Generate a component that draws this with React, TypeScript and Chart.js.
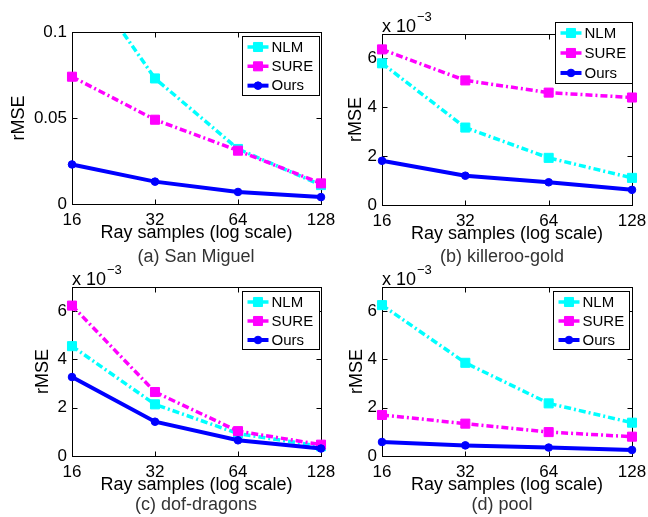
import React, { useEffect, useRef } from 'react';
import { Chart, registerables } from 'chart.js';

Chart.register(...registerables);
Chart.defaults.font.family = '"Liberation Sans", Arial, Helvetica, sans-serif';
Chart.defaults.color = '#000';

// ---------- data ----------
const samples = [16, 32, 64, 128];
const seriesNames = ['NLM', 'SURE', 'Ours'];

// (a) San Miguel (absolute rMSE)
const aNLM = [0.142, 0.073, 0.032, 0.011];
const aSURE = [0.074, 0.049, 0.031, 0.012];
const aOurs = [0.023, 0.013, 0.007, 0.004];
// (b) killeroo-gold (x 10^-3)
const bNLM = [5.8, 3.17, 1.93, 1.11];
const bSURE = [6.37, 5.1, 4.6, 4.4];
const bOurs = [1.81, 1.2, 0.93, 0.62];
// (c) dof-dragons (x 10^-3)
const cNLM = [4.55, 2.14, 0.93, 0.4];
const cSURE = [6.23, 2.65, 1.03, 0.47];
const cOurs = [3.27, 1.42, 0.65, 0.31];
// (d) pool (x 10^-3)
const dNLM = [6.25, 3.86, 2.18, 1.38];
const dSURE = [1.7, 1.34, 0.99, 0.8];
const dOurs = [0.58, 0.44, 0.35, 0.25];

const aYTicks = [0, 0.05, 0.1];
const aYTickLabels = ['0', '0.05', '0.1'];
const milliYTicks = [0, 2, 4, 6];
const milliYTickLabels = ['0', '2', '4', '6'];

const captions = ['(a) San Miguel', '(b) killeroo-gold', '(c) dof-dragons', '(d) pool'];
const xTitle = 'Ray samples (log scale)';
const yTitle = 'rMSE';
const exponentBase = 'x 10';
const exponentPower = '\u22123';

// ---------- layout / style ----------
const COLORS = ['#00FFFF', '#FF00FF', '#0000FF'];
const DASHES = [[7, 3, 2, 3], [7, 3, 2, 3], []];
const WIDTHS = [3.5, 3.5, 4];
const STYLES = ['rect', 'rect', 'circle'];
const RADII = [6.4, 6.4, 3.8];
const FONT = '"Liberation Sans", Arial, Helvetica, sans-serif';

type PanelCfg = {
  caption: string;
  series: number[][];
  yMax: number;
  yTicks: number[];
  yLabels: string[];
  exponent: boolean;
  canvas: { x: number; y: number; w: number; h: number };
  plot: { l: number; t: number; r: number; b: number };
  yTitleX: number;
  capX: number;
  capY: number;
  legend: { rightInset: number; topOffset: number; w: number; h: number };
};

const panels: PanelCfg[] = [
  {
    caption: captions[0], series: [aNLM, aSURE, aOurs], yMax: 0.1, yTicks: aYTicks, yLabels: aYTickLabels, exponent: false,
    canvas: { x: 0, y: 0, w: 345, h: 272 }, plot: { l: 72, t: 32, r: 321, b: 204 },
    yTitleX: 19, capX: 196, capY: 257, legend: { rightInset: 2, topOffset: 4, w: 77, h: 59 },
  },
  {
    caption: captions[1], series: [bNLM, bSURE, bOurs], yMax: 7, yTicks: milliYTicks, yLabels: milliYTickLabels, exponent: true,
    canvas: { x: 315, y: 0, w: 333, h: 272 }, plot: { l: 382, t: 34, r: 632, b: 205 },
    yTitleX: 356, capX: 502, capY: 257, legend: { rightInset: 0, topOffset: -12, w: 77, h: 61 },
  },
  {
    caption: captions[2], series: [cNLM, cSURE, cOurs], yMax: 7, yTicks: milliYTicks, yLabels: milliYTickLabels, exponent: true,
    canvas: { x: 0, y: 245, w: 345, h: 272 }, plot: { l: 72, t: 287, r: 321, b: 456 },
    yTitleX: 43, capX: 196, capY: 505, legend: { rightInset: 2, topOffset: 4, w: 77, h: 58 },
  },
  {
    caption: captions[3], series: [dNLM, dSURE, dOurs], yMax: 7, yTicks: milliYTicks, yLabels: milliYTickLabels, exponent: true,
    canvas: { x: 315, y: 245, w: 333, h: 272 }, plot: { l: 382, t: 287, r: 632, b: 456 },
    yTitleX: 357, capX: 502, capY: 505, legend: { rightInset: 3, topOffset: 4, w: 76, h: 58 },
  },
];

function drawMarker(ctx: CanvasRenderingContext2D, style: string, x: number, y: number, r: number, color: string) {
  ctx.save();
  ctx.setLineDash([]);
  ctx.fillStyle = color;
  ctx.strokeStyle = color;
  ctx.lineWidth = 1;
  ctx.beginPath();
  if (style === 'rect') {
    const s = Math.SQRT1_2 * r;
    ctx.rect(x - s, y - s, 2 * s, 2 * s);
  } else {
    ctx.arc(x, y, r, 0, Math.PI * 2);
  }
  ctx.fill();
  ctx.stroke();
  ctx.restore();
}

function Panel({ cfg }: { cfg: PanelCfg }) {
  const ref = useRef<HTMLCanvasElement>(null);
  useEffect(() => {
    const c = cfg.canvas;
    const p = cfg.plot;
    const t = p.t - c.y;
    const r = p.r - c.x;
    const b = p.b - c.y;
    const l = p.l - c.x;
    const xTitleCY = p.b + 29 - c.y;
    const yTitleCX = cfg.yTitleX - c.x;

    const decor = {
      id: 'decor',
      beforeDatasetsDraw(chart: any) {
        const { ctx, chartArea } = chart;
        const L = Math.round(chartArea.left) + 0.5;
        const T = Math.round(chartArea.top) + 0.5;
        const R = Math.round(chartArea.right) + 0.5;
        const B = Math.round(chartArea.bottom) + 0.5;
        ctx.save();
        ctx.strokeStyle = '#000';
        ctx.lineWidth = 1;
        ctx.strokeRect(L, T, R - L, B - T);
        const ys = chart.scales.y;
        const xs = chart.scales.x;
        ctx.beginPath();
        ys.ticks.forEach((tk: any) => {
          const py = Math.round(ys.getPixelForValue(tk.value)) + 0.5;
          ctx.moveTo(L, py); ctx.lineTo(L + 5, py);
          ctx.moveTo(R, py); ctx.lineTo(R - 5, py);
        });
        xs.ticks.forEach((tk: any) => {
          const px = Math.round(xs.getPixelForValue(tk.value)) + 0.5;
          ctx.moveTo(px, B); ctx.lineTo(px, B - 5);
          ctx.moveTo(px, T); ctx.lineTo(px, T + 5);
        });
        ctx.stroke();
        ctx.restore();
      },
      afterDraw(chart: any) {
        const { ctx, chartArea } = chart;
        ctx.save();
        // legend box
        const lg = cfg.legend;
        const bx = Math.round(chartArea.right - lg.rightInset - lg.w) + 0.5;
        const by = Math.round(chartArea.top + lg.topOffset) + 0.5;
        ctx.fillStyle = '#fff';
        ctx.fillRect(bx, by, lg.w, lg.h);
        ctx.strokeStyle = '#000';
        ctx.lineWidth = 1;
        ctx.strokeRect(bx, by, lg.w, lg.h);
        chart.data.datasets.forEach((ds: any, i: number) => {
          const yy = by + 10.5 + i * 19 * (lg.h / 58);
          ctx.save();
          ctx.strokeStyle = ds.borderColor;
          ctx.lineWidth = ds.borderWidth;
          ctx.setLineDash(ds.borderDash || []);
          ctx.beginPath();
          ctx.moveTo(bx + 5, yy);
          ctx.lineTo(bx + 26, yy);
          ctx.stroke();
          ctx.restore();
          drawMarker(ctx, ds.pointStyle, bx + 15.5, yy, ds.pointRadius, ds.borderColor);
          ctx.fillStyle = '#000';
          ctx.font = '15px ' + FONT;
          ctx.textAlign = 'left';
          ctx.textBaseline = 'middle';
          ctx.fillText(ds.label, bx + 29, yy + 0.5);
        });
        // exponent label
        if (cfg.exponent) {
          ctx.fillStyle = '#000';
          ctx.textAlign = 'left';
          ctx.textBaseline = 'alphabetic';
          ctx.font = '18px ' + FONT;
          ctx.fillText(exponentBase, chartArea.left, chartArea.top - 2.5);
          const w = ctx.measureText(exponentBase).width;
          ctx.font = '13px ' + FONT;
          ctx.fillText(exponentPower, chartArea.left + w + 1, chartArea.top - 13);
        }
        // caption
        ctx.fillStyle = '#333';
        ctx.font = '18px ' + FONT;
        ctx.textAlign = 'center';
        ctx.textBaseline = 'middle';
        ctx.fillText(cfg.caption, cfg.capX - c.x, cfg.capY - c.y);
        ctx.restore();
      },
    };

    const datasets = seriesNames.map((name, i) => ({
      label: name,
      data: samples.map((x, k) => ({ x, y: cfg.series[i][k] })),
      borderColor: COLORS[i],
      backgroundColor: COLORS[i],
      borderWidth: WIDTHS[i],
      borderDash: DASHES[i],
      pointStyle: STYLES[i],
      pointRadius: RADII[i],
      pointBorderWidth: 1,
      pointBorderColor: COLORS[i],
      pointBackgroundColor: COLORS[i],
      tension: 0,
      fill: false,
      order: 3 - i,
      clip: { left: 12, right: 12, top: 0, bottom: 12 },
    }));

    const chart = new Chart(ref.current as HTMLCanvasElement, {
      type: 'line',
      data: { datasets } as any,
      options: {
        animation: false,
        responsive: false,
        devicePixelRatio: 1,
        events: [],
        layout: { padding: { left: 0, top: t, right: c.w - r, bottom: 0 } },
        plugins: { legend: { display: false }, tooltip: { enabled: false }, title: { display: false } },
        scales: {
          x: {
            type: 'logarithmic',
            min: 16,
            max: 128,
            position: 'bottom',
            grid: { display: false, drawTicks: false },
            border: { display: false },
            ticks: {
              autoSkip: false,
              maxRotation: 0,
              minRotation: 0,
              padding: 6,
              font: { size: 17 },
              color: '#000',
              callback: (v: any) => String(v),
            },
            afterBuildTicks: (s: any) => { s.ticks = samples.map((v) => ({ value: v })); },
            afterFit: (s: any) => { s.height = c.h - b; s.paddingLeft = 0; s.paddingRight = 0; },
            title: {
              display: true,
              text: xTitle,
              font: { size: 18 },
              color: '#000',
              padding: { top: 0, bottom: c.h - xTitleCY - 10.8 },
            },
          },
          y: {
            type: 'linear',
            min: 0,
            max: cfg.yMax,
            position: 'left',
            grid: { display: false, drawTicks: false },
            border: { display: false },
            ticks: {
              autoSkip: false,
              padding: 5,
              font: { size: 17 },
              color: '#000',
              callback: (v: any) => cfg.yLabels[cfg.yTicks.indexOf(v)] ?? '',
            },
            afterBuildTicks: (s: any) => { s.ticks = cfg.yTicks.map((v) => ({ value: v })); },
            afterFit: (s: any) => { s.width = l; s.paddingTop = 0; s.paddingBottom = 0; },
            title: {
              display: true,
              text: yTitle,
              font: { size: 18 },
              color: '#000',
              padding: { top: yTitleCX - 10.8, bottom: 0 },
            },
          },
        },
      } as any,
      plugins: [decor],
    });
    return () => chart.destroy();
  }, [cfg]);

  const c = cfg.canvas;
  return (
    <canvas
      ref={ref}
      width={c.w}
      height={c.h}
      style={{ position: 'absolute', left: c.x, top: c.y, width: c.w, height: c.h }}
    />
  );
}

export default function App() {
  return (
    <div style={{ position: 'fixed', left: 0, top: 0, width: 648, height: 517, background: '#fff', overflow: 'hidden' }}>
      {panels.map((cfg, i) => (
        <Panel key={i} cfg={cfg} />
      ))}
    </div>
  );
}
